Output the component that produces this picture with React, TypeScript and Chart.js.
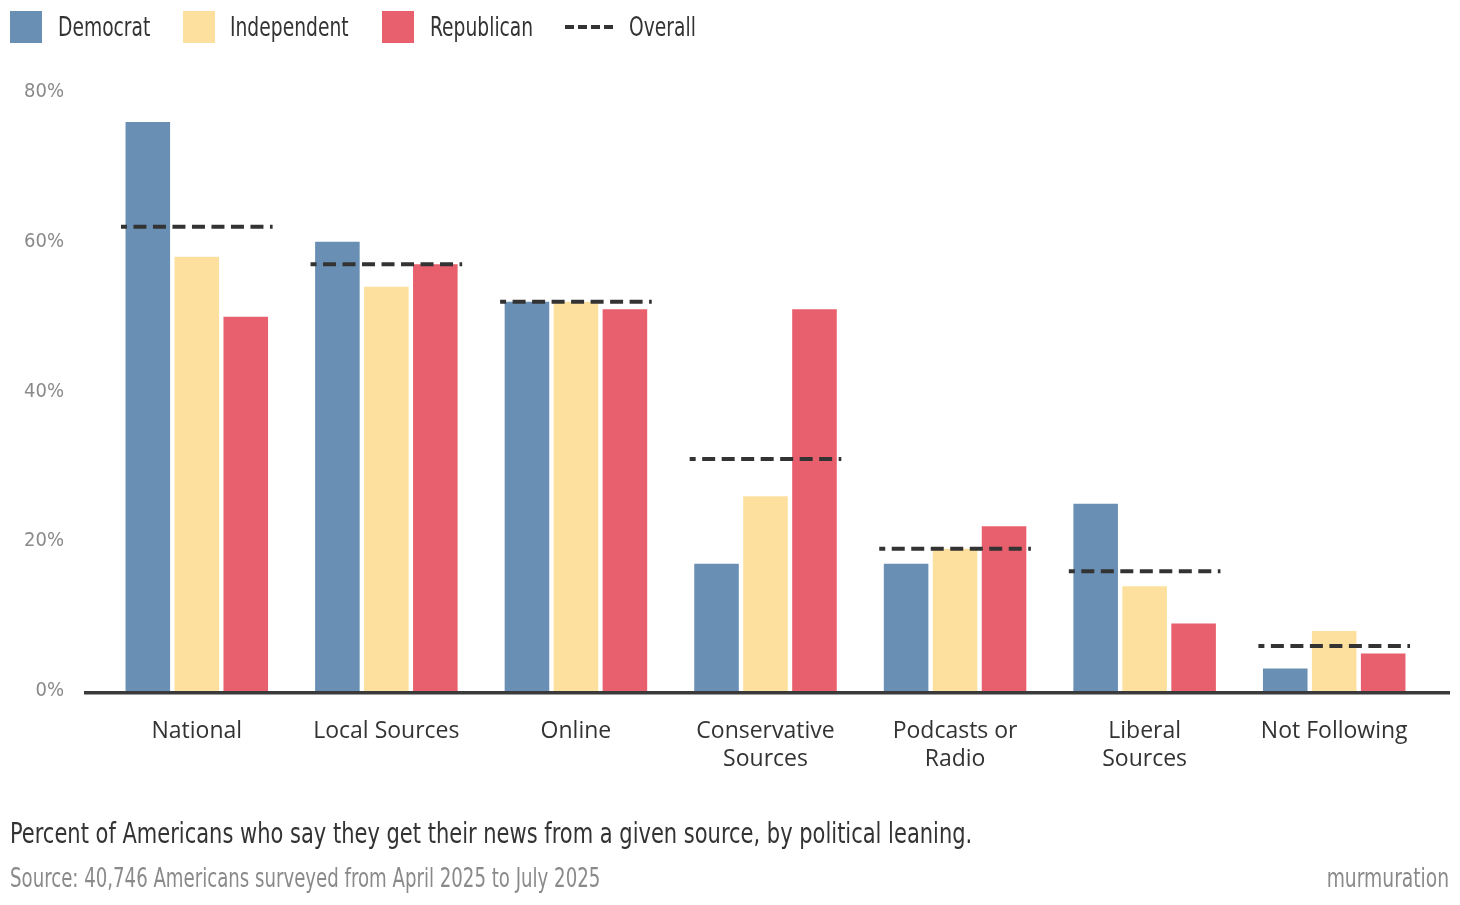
import React, { useEffect, useRef } from "react";
import { Chart, registerables } from "chart.js";

Chart.register(...registerables);

// ---- data ----
const categories: (string | string[])[] = [
  "National",
  "Local Sources",
  "Online",
  ["Conservative", "Sources"],
  ["Podcasts or", "Radio"],
  ["Liberal", "Sources"],
  "Not Following",
];
const democrat = [76, 60, 52, 17, 17, 25, 3];
const independent = [58, 54, 52, 26, 19, 14, 8];
const republican = [50, 57, 51, 51, 22, 9, 5];
const overall = [62, 57, 52, 31, 19, 16, 6];
const yTickValues = [0, 20, 40, 60, 80];
const seriesNames = ["Democrat", "Independent", "Republican", "Overall"];

const COLORS = {
  dem: "#6990b4",
  ind: "#fee09e",
  rep: "#e85f6d",
  overall: "#333333",
};

const NARROW = "'DejaVu Sans Condensed', 'Liberation Sans Narrow', sans-serif";
const TICKFONT = "'Open Sans', 'Noto Sans', sans-serif";

// baseline + overall dashed segments, positioned through the chart's scales
const overlayPlugin = {
  id: "overlay",
  afterDatasetsDraw(chart: any) {
    const { ctx, chartArea, scales } = chart;
    const x = scales.x;
    const y = scales.y;
    const step = x.getPixelForValue(1) - x.getPixelForValue(0);
    ctx.save();
    // overall dashes
    ctx.strokeStyle = COLORS.overall;
    ctx.lineWidth = 4;
    ctx.lineCap = "butt";
    ctx.setLineDash([13, 6.5]);
    ctx.lineDashOffset = 7;
    overall.forEach((v, i) => {
      const cx = x.getPixelForValue(i);
      const py = y.getPixelForValue(v);
      ctx.beginPath();
      ctx.moveTo(cx - 0.4 * step, py);
      ctx.lineTo(cx + 0.4 * step, py);
      ctx.stroke();
    });
    // baseline (sits just below the zero line)
    ctx.setLineDash([]);
    const y0 = y.getPixelForValue(0);
    ctx.strokeStyle = "#3a3a3a";
    ctx.lineWidth = 3.5;
    ctx.beginPath();
    ctx.moveTo(chartArea.left - 18, y0 + 1.75);
    ctx.lineTo(chartArea.right + 21, y0 + 1.75);
    ctx.stroke();
    ctx.restore();
  },
};

export default function App() {
  const ref = useRef<HTMLCanvasElement>(null);

  useEffect(() => {
    document.body.style.margin = "0";
    const barCommon = { categoryPercentage: 0.775, barPercentage: 0.91, borderWidth: 0 };
    const chart = new Chart(ref.current!, {
      type: "bar",
      data: {
        labels: categories as any,
        datasets: [
          { label: seriesNames[0], data: democrat, backgroundColor: COLORS.dem, ...barCommon },
          { label: seriesNames[1], data: independent, backgroundColor: COLORS.ind, ...barCommon },
          { label: seriesNames[2], data: republican, backgroundColor: COLORS.rep, ...barCommon },
        ],
      },
      options: {
        responsive: false,
        animation: false,
        layout: { padding: { top: 92, right: 31, left: 0, bottom: 0 } },
        plugins: {
          legend: { display: false },
          tooltip: { enabled: false },
        },
        scales: {
          x: {
            type: "category",
            grid: { display: false, drawTicks: false },
            border: { display: false },
            ticks: {
              color: "#333333",
              font: { family: TICKFONT, size: 23, lineHeight: 1.22 },
              padding: 26,
              maxRotation: 0,
              autoSkip: false,
            },
            afterFit(s: any) {
              s.height = 214;
            },
          },
          y: {
            min: 0,
            max: 80,
            grid: { display: false, drawTicks: false },
            border: { display: false },
            afterBuildTicks(s: any) {
              s.ticks = yTickValues.map((v) => ({ value: v }));
            },
            ticks: {
              color: "#8a8a8a",
              font: { family: NARROW, size: 20 },
              padding: 38,
              callback: (v: any) => v + "%",
            },
            afterFit(s: any) {
              s.width = 102;
            },
          },
        },
      },
      plugins: [overlayPlugin],
    });
    return () => chart.destroy();
  }, []);

  const legendText = (left: number): React.CSSProperties => ({
    position: "absolute",
    left,
    top: 11,
    fontFamily: NARROW,
    fontSize: 27,
    color: "#333333",
    lineHeight: "32px",
    whiteSpace: "nowrap",
    transform: "scaleX(0.77)",
    transformOrigin: "left center",
  });
  const box = (left: number, c: string): React.CSSProperties => ({
    position: "absolute",
    left,
    top: 11,
    width: 32,
    height: 32,
    background: c,
  });

  return (
    <div style={{ position: "relative", width: 1460, height: 905, overflow: "hidden", background: "#fff" }}>
      <canvas ref={ref} width={1460} height={905} style={{ position: "absolute", left: 0, top: 0 }} />
      <div style={box(10, COLORS.dem)} />
      <div style={legendText(58)}>{seriesNames[0]}</div>
      <div style={box(183, COLORS.ind)} />
      <div style={legendText(230)}>{seriesNames[1]}</div>
      <div style={box(382, COLORS.rep)} />
      <div style={legendText(430)}>{seriesNames[2]}</div>
      <div style={{ position: "absolute", left: 565, top: 25, display: "flex", gap: 4 }}>
        {[0, 1, 2, 3].map((k) => (
          <div key={k} style={{ width: 9, height: 4, background: COLORS.overall }} />
        ))}
      </div>
      <div style={legendText(629)}>{seriesNames[3]}</div>
      <div
        style={{
          position: "absolute",
          left: 10,
          top: 817,
          fontFamily: NARROW,
          fontSize: 29,
          lineHeight: "32px",
          color: "#333333",
          whiteSpace: "nowrap",
          transform: "scaleX(0.805)",
          transformOrigin: "left center",
        }}
      >
        Percent of Americans who say they get their news from a given source, by political leaning.
      </div>
      <div
        style={{
          position: "absolute",
          left: 10,
          top: 862,
          fontFamily: NARROW,
          fontSize: 26,
          lineHeight: "32px",
          color: "#8a8a8a",
          whiteSpace: "nowrap",
          transform: "scaleX(0.776)",
          transformOrigin: "left center",
        }}
      >
        Source: 40,746 Americans surveyed from April 2025 to July 2025
      </div>
      <div
        style={{
          position: "absolute",
          right: 11,
          top: 862,
          fontFamily: NARROW,
          fontSize: 26,
          lineHeight: "32px",
          color: "#8a8a8a",
          whiteSpace: "nowrap",
          transform: "scaleX(0.8)",
          transformOrigin: "right center",
        }}
      >
        murmuration
      </div>
    </div>
  );
}
